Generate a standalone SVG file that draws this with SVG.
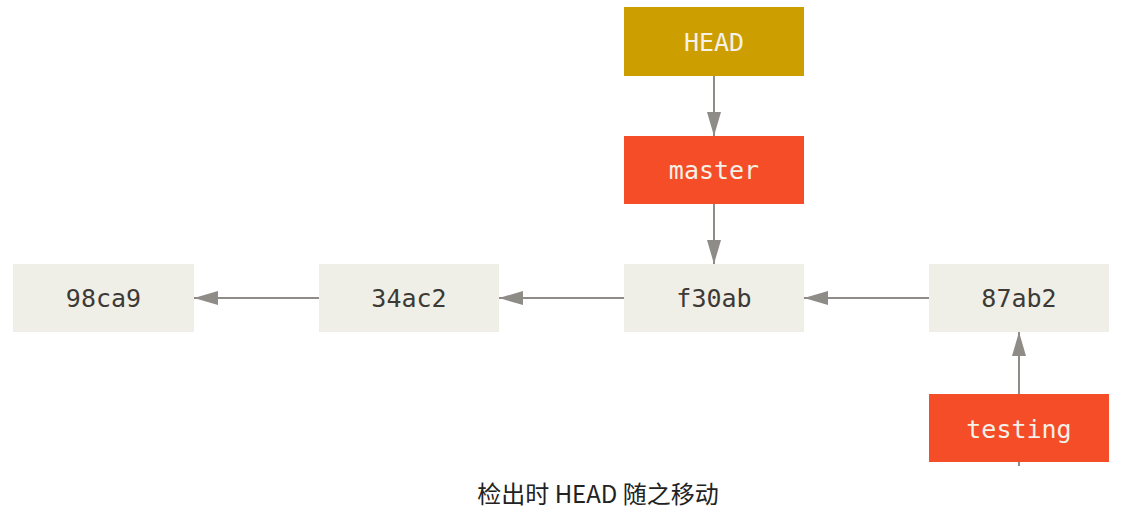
<svg xmlns="http://www.w3.org/2000/svg" width="1126" height="532" viewBox="0 0 1126 532">
<style>
.commit{fill:#f0efe7}
.branch{fill:#f44d27}
.head{fill:#cc9e00}
.lbl{font-family:"DejaVu Sans Mono",monospace;font-size:25px;text-anchor:middle}
.dark{fill:#3d3a36}
.light{fill:#f4f1e8}
.conn{stroke:#8f8b86;stroke-width:2;fill:none}
.cap{font-family:"Noto Sans CJK SC","Noto Sans",sans-serif;font-size:24px;fill:#222;text-anchor:middle}
</style>
<defs>
<marker id="ah" viewBox="0 0 24 14" refX="24" refY="7" markerWidth="24" markerHeight="14" markerUnits="userSpaceOnUse" orient="auto">
<path d="M0,0 L24,7 L0,14 Z" fill="#8f8b86"/>
</marker>
</defs>
<rect width="1126" height="532" fill="#fff"/>
<g id="connectors">
<line class="conn" x1="714" y1="76" x2="714" y2="136" marker-end="url(#ah)"/>
<line class="conn" x1="714" y1="204" x2="714" y2="264" marker-end="url(#ah)"/>
<line class="conn" x1="319" y1="298" x2="194" y2="298" marker-end="url(#ah)"/>
<line class="conn" x1="624" y1="298" x2="499" y2="298" marker-end="url(#ah)"/>
<line class="conn" x1="929" y1="298" x2="804" y2="298" marker-end="url(#ah)"/>
<line class="conn" x1="1019" y1="466" x2="1019" y2="332" marker-end="url(#ah)"/>
</g>
<g id="n98ca9"><rect class="commit" x="13" y="264" width="181" height="68"/><text class="lbl dark" x="103.5" y="307">98ca9</text></g>
<g id="n34ac2"><rect class="commit" x="319" y="264" width="180" height="68"/><text class="lbl dark" x="409" y="307">34ac2</text></g>
<g id="nf30ab"><rect class="commit" x="624" y="264" width="180" height="68"/><text class="lbl dark" x="714" y="307">f30ab</text></g>
<g id="n87ab2"><rect class="commit" x="929" y="264" width="180" height="68"/><text class="lbl dark" x="1019" y="307">87ab2</text></g>
<g id="head"><rect class="head" x="624" y="7" width="180" height="69"/><text class="lbl light" x="714" y="51">HEAD</text></g>
<g id="master"><rect class="branch" x="624" y="136" width="180" height="68"/><text class="lbl light" x="714" y="179">master</text></g>
<g id="testing"><rect class="branch" x="929" y="394" width="180" height="68"/><text class="lbl light" x="1019" y="438">testing</text></g>
<text class="cap" x="598" y="503">检出时 HEAD 随之移动</text>
</svg>
